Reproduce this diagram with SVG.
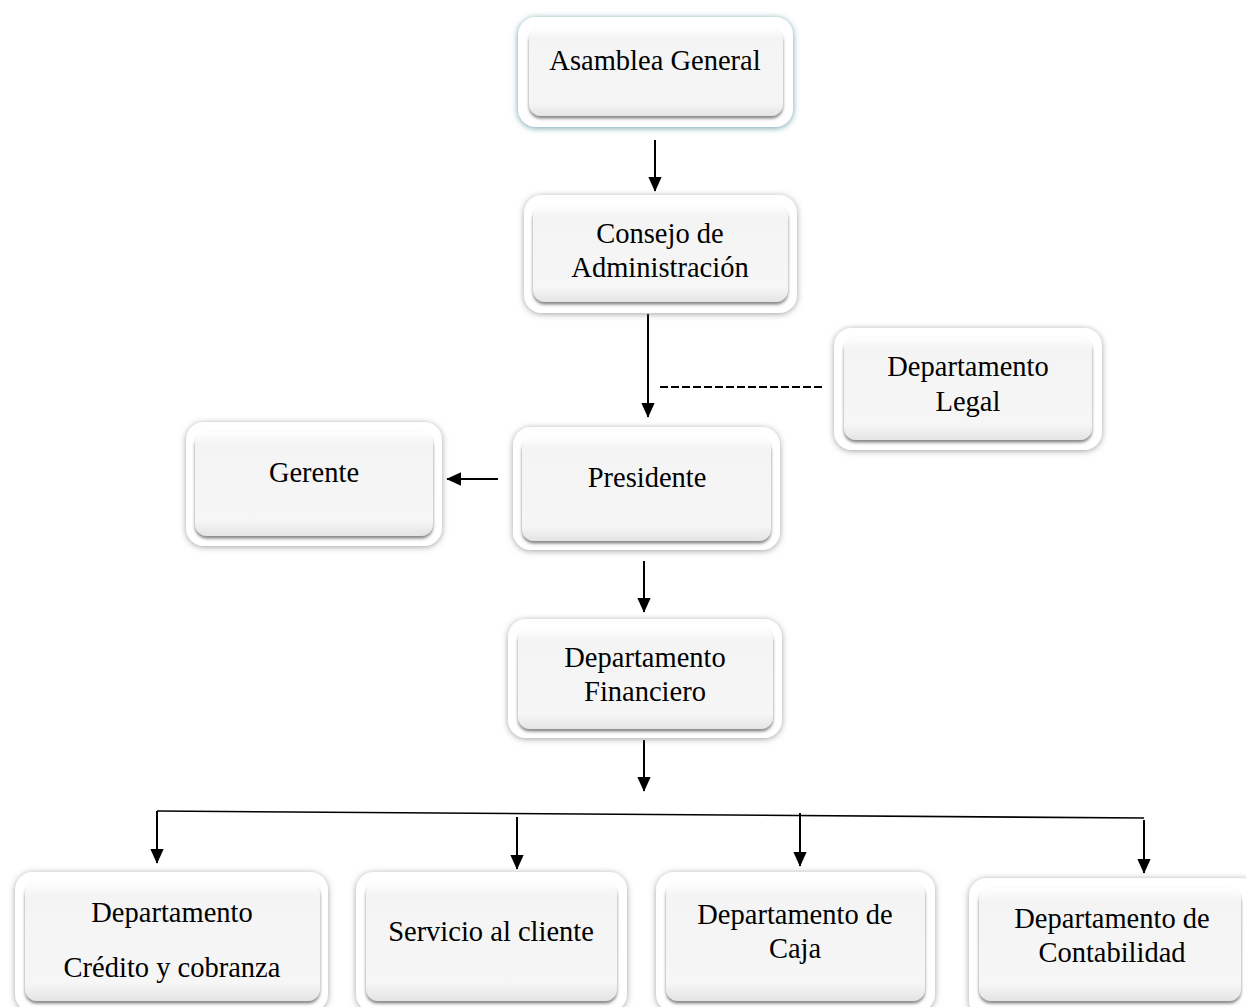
<svg xmlns="http://www.w3.org/2000/svg" width="1246" height="1007" viewBox="0 0 1246 1007">
  <defs>
    <filter id="ring" x="-10%" y="-15%" width="120%" height="130%">
      <feDropShadow dx="0" dy="1" stdDeviation="3" flood-color="#7a7a7a" flood-opacity="0.7"/>
    </filter>
    <filter id="ringTeal" x="-10%" y="-15%" width="120%" height="130%">
      <feDropShadow dx="0" dy="1" stdDeviation="3.2" flood-color="#4f8f98" flood-opacity="0.85"/>
    </filter>
    <filter id="lift" x="-10%" y="-15%" width="120%" height="130%">
      <feDropShadow dx="0" dy="2.5" stdDeviation="1.6" flood-color="#505050" flood-opacity="0.7"/>
    </filter>
    <linearGradient id="face" x1="0" y1="0" x2="0" y2="1">
      <stop offset="0" stop-color="#ffffff"/>
      <stop offset="0.12" stop-color="#f4f4f4"/>
      <stop offset="0.85" stop-color="#f6f6f6"/>
      <stop offset="1" stop-color="#e4e4e4"/>
    </linearGradient>
    <marker id="arrowBig" viewBox="0 0 10 10" refX="9.5" refY="5" markerWidth="15" markerHeight="15" markerUnits="userSpaceOnUse" orient="auto">
      <path d="M0,0.5 L10,5 L0,9.5 z" fill="#000"/>
    </marker>
  </defs>
  <style>
    .outer { fill: #ffffff; filter: url(#ring); }
    .outer.teal { filter: url(#ringTeal); }
    .inner { fill: url(#face); filter: url(#lift); }
    .label { font-family: "Liberation Serif", "Times New Roman", serif; font-size: 28.5px; fill: #000; text-anchor: middle; }
    .link { stroke: #000; stroke-width: 2; fill: none; marker-end: url(#arrowBig); }
    .bus { stroke: #000; stroke-width: 1.6; fill: none; }
    .dash { stroke: #000; stroke-width: 2; stroke-dasharray: 8 3; fill: none; }
  </style>
  <rect width="1246" height="1007" fill="#ffffff"/>

  <!-- connectors -->
  <g id="connectors">
    <line class="link" x1="655" y1="140" x2="655" y2="191"/>
    <line class="link" x1="648" y1="314" x2="648" y2="417"/>
    <line class="dash" x1="660" y1="387" x2="825" y2="387"/>
    <line class="link" x1="498" y1="479" x2="447" y2="479"/>
    <line class="link" x1="644" y1="561" x2="644" y2="612"/>
    <line class="link" x1="644" y1="740" x2="644" y2="791"/>
    <line class="bus" x1="157" y1="811" x2="1144" y2="818"/>
    <line class="link" x1="157" y1="811" x2="157" y2="863"/>
    <line class="link" x1="517" y1="817" x2="517" y2="869"/>
    <line class="link" x1="800" y1="813" x2="800" y2="866"/>
    <line class="link" x1="1144" y1="820" x2="1144" y2="873"/>
  </g>

  <g id="asamblea">
    <rect class="outer teal" x="518" y="17" width="275" height="110" rx="18"/>
    <rect class="inner" x="529" y="28" width="254" height="88" rx="12"/>
    <text class="label" x="655" y="70">Asamblea General</text>
  </g>

  <g id="consejo">
    <rect class="outer" x="524" y="195" width="273" height="118" rx="18"/>
    <rect class="inner" x="533" y="205" width="255" height="97" rx="12"/>
    <text class="label" x="660" y="243">Consejo de</text>
    <text class="label" x="660" y="277">Administración</text>
  </g>

  <g id="legal">
    <rect class="outer" x="834" y="328" width="268" height="122" rx="18"/>
    <rect class="inner" x="844" y="337" width="248" height="103" rx="12"/>
    <text class="label" x="968" y="376">Departamento</text>
    <text class="label" x="968" y="411">Legal</text>
  </g>

  <g id="gerente">
    <rect class="outer" x="186" y="422" width="256" height="124" rx="18"/>
    <rect class="inner" x="195" y="432" width="238" height="104" rx="12"/>
    <text class="label" x="314" y="482">Gerente</text>
  </g>

  <g id="presidente">
    <rect class="outer" x="513" y="427" width="267" height="123" rx="18"/>
    <rect class="inner" x="522" y="437" width="249" height="104" rx="12"/>
    <text class="label" x="647" y="487">Presidente</text>
  </g>

  <g id="financiero">
    <rect class="outer" x="508" y="619" width="274" height="119" rx="18"/>
    <rect class="inner" x="518" y="628" width="255" height="101" rx="12"/>
    <text class="label" x="645" y="667">Departamento</text>
    <text class="label" x="645" y="701">Financiero</text>
  </g>

  <g id="credito">
    <rect class="outer" x="15" y="872" width="313" height="140" rx="18"/>
    <rect class="inner" x="25" y="882" width="295" height="119" rx="12"/>
    <text class="label" x="172" y="922">Departamento</text>
    <text class="label" x="172" y="977">Crédito y cobranza</text>
  </g>

  <g id="servicio">
    <rect class="outer" x="356" y="872" width="271" height="140" rx="18"/>
    <rect class="inner" x="366" y="882" width="251" height="119" rx="12"/>
    <text class="label" x="491" y="941">Servicio al cliente</text>
  </g>

  <g id="caja">
    <rect class="outer" x="656" y="872" width="279" height="140" rx="18"/>
    <rect class="inner" x="666" y="882" width="259" height="119" rx="12"/>
    <text class="label" x="795" y="924">Departamento de</text>
    <text class="label" x="795" y="958">Caja</text>
  </g>

  <g id="contabilidad">
    <rect class="outer" x="969" y="878" width="290" height="140" rx="18"/>
    <rect class="inner" x="979" y="888" width="262" height="113" rx="12"/>
    <text class="label" x="1112" y="928">Departamento de</text>
    <text class="label" x="1112" y="962">Contabilidad</text>
  </g>
</svg>
